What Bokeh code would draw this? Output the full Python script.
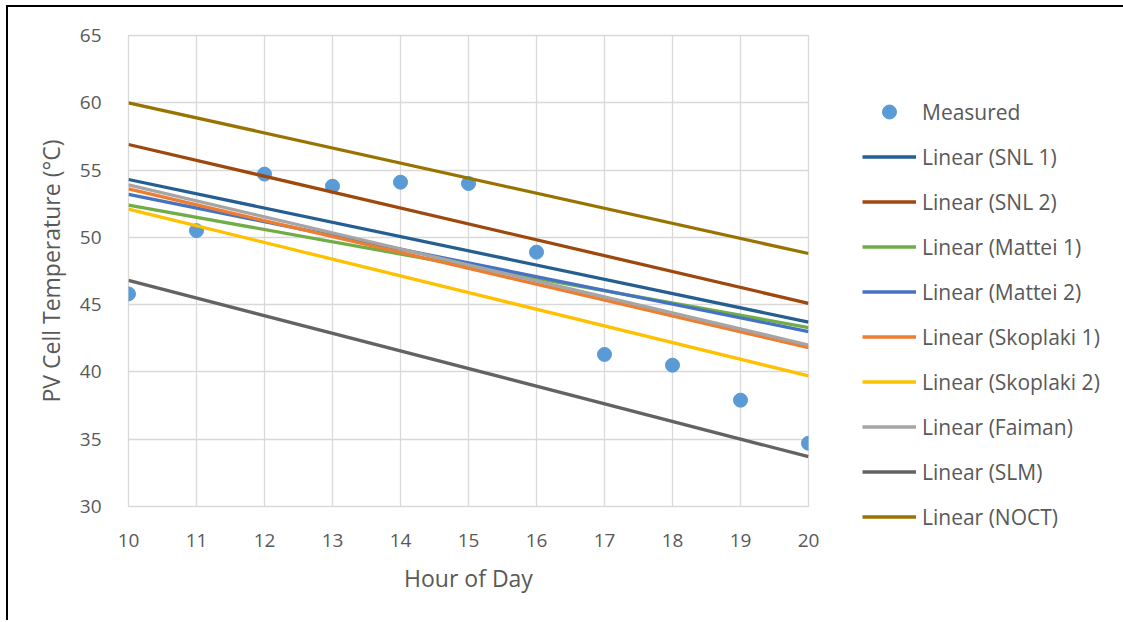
from bokeh.plotting import figure
from bokeh.models import Legend, LegendItem, FixedTicker, Range1d
from bokeh.embed import file_html
from bokeh.resources import INLINE

hours = [10, 11, 12, 13, 14, 15, 16, 17, 18, 19, 20]
measured = [45.8, 50.5, 54.7, 53.8, 54.1, 54.0, 48.9, 41.3, 40.5, 37.9, 34.7]

models = ["SNL 1", "SNL 2", "Mattei 1", "Mattei 2", "Skoplaki 1",
          "Skoplaki 2", "Faiman", "SLM", "NOCT"]
trend_at_10 = [54.3, 56.9, 52.4, 53.2, 53.6, 52.1, 53.9, 46.8, 60.0]
trend_at_20 = [43.7, 45.1, 43.3, 43.0, 41.8, 39.7, 42.0, 33.7, 48.8]
colors = ["#255E91", "#9E480E", "#70AD47", "#4472C4", "#ED7D31",
          "#FFC000", "#A5A5A5", "#636363", "#997300"]

FONT = "Open Sans"

p = figure(frame_width=680, frame_height=471, min_border_left=120,
           min_border_top=28, min_border_bottom=114, min_border_right=16,
           x_range=Range1d(10, 20), y_range=Range1d(30, 65),
           output_backend="svg", toolbar_location=None)
p.margin = (5, 0, 0, 6)
p.styles = {"border-left": "2px solid black", "border-top": "2px solid black"}

p.xaxis.ticker = FixedTicker(ticks=list(range(10, 21)))
p.yaxis.ticker = FixedTicker(ticks=list(range(30, 66, 5)))
for ax in (p.xaxis, p.yaxis):
    ax.axis_line_color = None
    ax.major_tick_line_color = None
    ax.minor_tick_line_color = None
    ax.major_label_text_font = FONT
    ax.major_label_text_font_size = "19px"
    ax.major_label_text_color = "#595959"
    ax.axis_label_text_font = FONT
    ax.axis_label_text_font_size = "23px"
    ax.axis_label_text_font_style = "normal"
    ax.axis_label_text_color = "#595959"
p.xaxis.major_label_standoff = 21
p.yaxis.major_label_standoff = 21
p.xaxis.axis_label = "Hour of Day"
p.yaxis.axis_label = "PV Cell Temperature (°C)"
p.xaxis.axis_label_standoff = 12
p.yaxis.axis_label_standoff = 10

p.xgrid.grid_line_color = "#D9D9D9"
p.ygrid.grid_line_color = "#D9D9D9"
p.xgrid.grid_line_width = 1.3
p.ygrid.grid_line_width = 1.3
p.outline_line_color = "#D9D9D9"
p.outline_line_width = 1.3

items = []
sc = p.scatter(hours, measured, size=14, color="#5B9BD5", line_color="#5B9BD5")
items.append(LegendItem(label="Measured", renderers=[sc]))
for m, a, b, c in zip(models, trend_at_10, trend_at_20, colors):
    r = p.line([hours[0], hours[-1]], [a, b], line_color=c, line_width=3.3)
    items.append(LegendItem(label="Linear (" + m + ")", renderers=[r]))

legend = Legend(items=items, location=(54, -28), glyph_width=54,
                glyph_height=35, label_height=26, spacing=10, padding=0,
                margin=0,
                label_text_font=FONT, label_text_font_size="21px",
                label_text_color="#595959", label_standoff=6,
                border_line_color=None, background_fill_alpha=0)
p.add_layout(legend, "right")

open("out.html", "w").write(file_html(p, INLINE))
